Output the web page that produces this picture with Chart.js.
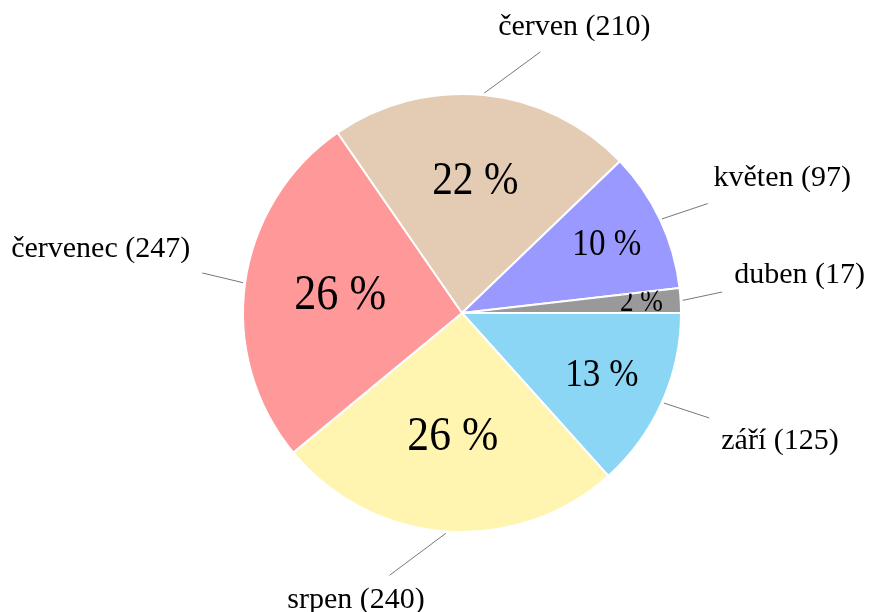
<!DOCTYPE html>
<html>
<head>
<meta charset="utf-8">
<script src="https://cdn.jsdelivr.net/npm/chart.js@4.4.1/dist/chart.umd.min.js"></script>
<style>
  body { margin: 0; background: #fff; }
</style>
</head>
<body>
<canvas id="mychart" width="874" height="612"></canvas>
<script>
// months in counter-clockwise order, starting at 3 o'clock
var months = ['duben', 'květen', 'červen', 'červenec', 'srpen', 'září'];
var counts = [17, 97, 210, 247, 240, 125];
var sliceColors = ['#999999', '#9999ff', '#e4ccb4', '#ff9999', '#fff5b0', '#8cd6f5'];

var total = counts.reduce(function(a, b) { return a + b; }, 0);
var labelFont = 'Liberation Serif, DejaVu Serif, serif';

// Chart.js goes clockwise, so feed it reversed
var revCounts = counts.slice().reverse();
var revColors = sliceColors.slice().reverse();
var revMonths = months.slice().reverse();

var pieLabels = {
    id: 'pieLabels',
    afterDatasetsDraw: function(chart) {
        var ctx = chart.ctx;
        var arcs = chart.getDatasetMeta(0).data;
        var n = months.length;
        for (var i = 0; i < n; i++) {
            var j = n - 1 - i;
            var arc = arcs[j];
            var cx = arc.x, cy = arc.y, R = arc.outerRadius;
            var p = counts[i] / total;
            var mid = (arc.startAngle + arc.endAngle) / 2;

            // percentage inside, later slices cover it
            ctx.save();
            if (j > 0) {
                ctx.beginPath();
                ctx.rect(0, 0, chart.width, chart.height);
                ctx.moveTo(cx, cy);
                ctx.arc(cx, cy, R, 0, arc.startAngle);
                ctx.closePath();
                ctx.clip('evenodd');
            }
            var rp = R * (0.84 - 1.055 * p);
            var size = 27 + 72 * p;
            ctx.font = size + 'px ' + labelFont;
            ctx.fillStyle = '#000';
            ctx.textAlign = 'center';
            ctx.textBaseline = 'middle';
            var px = cx + rp * Math.cos(mid), py = cy + rp * Math.sin(mid);
            ctx.translate(px, py);
            ctx.scale(0.96, 1.08);
            ctx.fillText(Math.round(p * 100) + ' %', 0, 0);
            ctx.restore();

            // outside label with pin line
            ctx.save();
            var text = months[i] + ' (' + counts[i] + ')';
            ctx.font = '30px ' + labelFont;
            var w = ctx.measureText(text).width;
            var side = Math.cos(mid) >= 0 ? 1 : -1;
            var alpha = Math.atan2(-Math.sin(mid), Math.abs(Math.cos(mid))) * 180 / Math.PI;
            var sgn = alpha >= 0 ? 1 : -1;
            var phi = sgn * (11 + 0.3 * Math.abs(alpha));
            var phr = phi * Math.PI / 180;
            var ux = side * Math.cos(phr), uy = -Math.sin(phr);
            var hw = w / 2 + 12, hh = 25;
            var t = Math.min(hw / Math.abs(Math.cos(phr)), hh / Math.abs(Math.sin(phr)));
            var g = 26 + 1.2 * Math.abs(phi);
            var sx = cx + (R + 2) * Math.cos(mid);
            var sy = cy + (R + 2) * Math.sin(mid);
            ctx.strokeStyle = '#777';
            ctx.lineWidth = 1;
            ctx.beginPath();
            ctx.moveTo(sx, sy);
            ctx.lineTo(sx + g * ux, sy + g * uy);
            ctx.stroke();
            ctx.fillStyle = '#000';
            ctx.textAlign = 'center';
            ctx.textBaseline = 'middle';
            ctx.fillText(text, sx + (g + t) * ux, sy + (g + t) * uy);
            ctx.restore();
        }
    }
};

var config = {
    type: 'pie',
    data: {
        labels: revMonths,
        datasets: [{
            data: revCounts,
            backgroundColor: revColors,
            borderColor: '#ffffff',
            borderWidth: 2
        }]
    },
    options: {
        responsive: false,
        animation: false,
        rotation: 90,
        layout: {
            padding: { left: 242, right: 192, top: 93, bottom: 79 }
        },
        plugins: {
            legend: { display: false },
            tooltip: { enabled: false }
        }
    },
    plugins: [pieLabels]
};

var ctx = document.getElementById('mychart').getContext('2d');
window.myPie = new Chart(ctx, config);
</script>
</body>
</html>
